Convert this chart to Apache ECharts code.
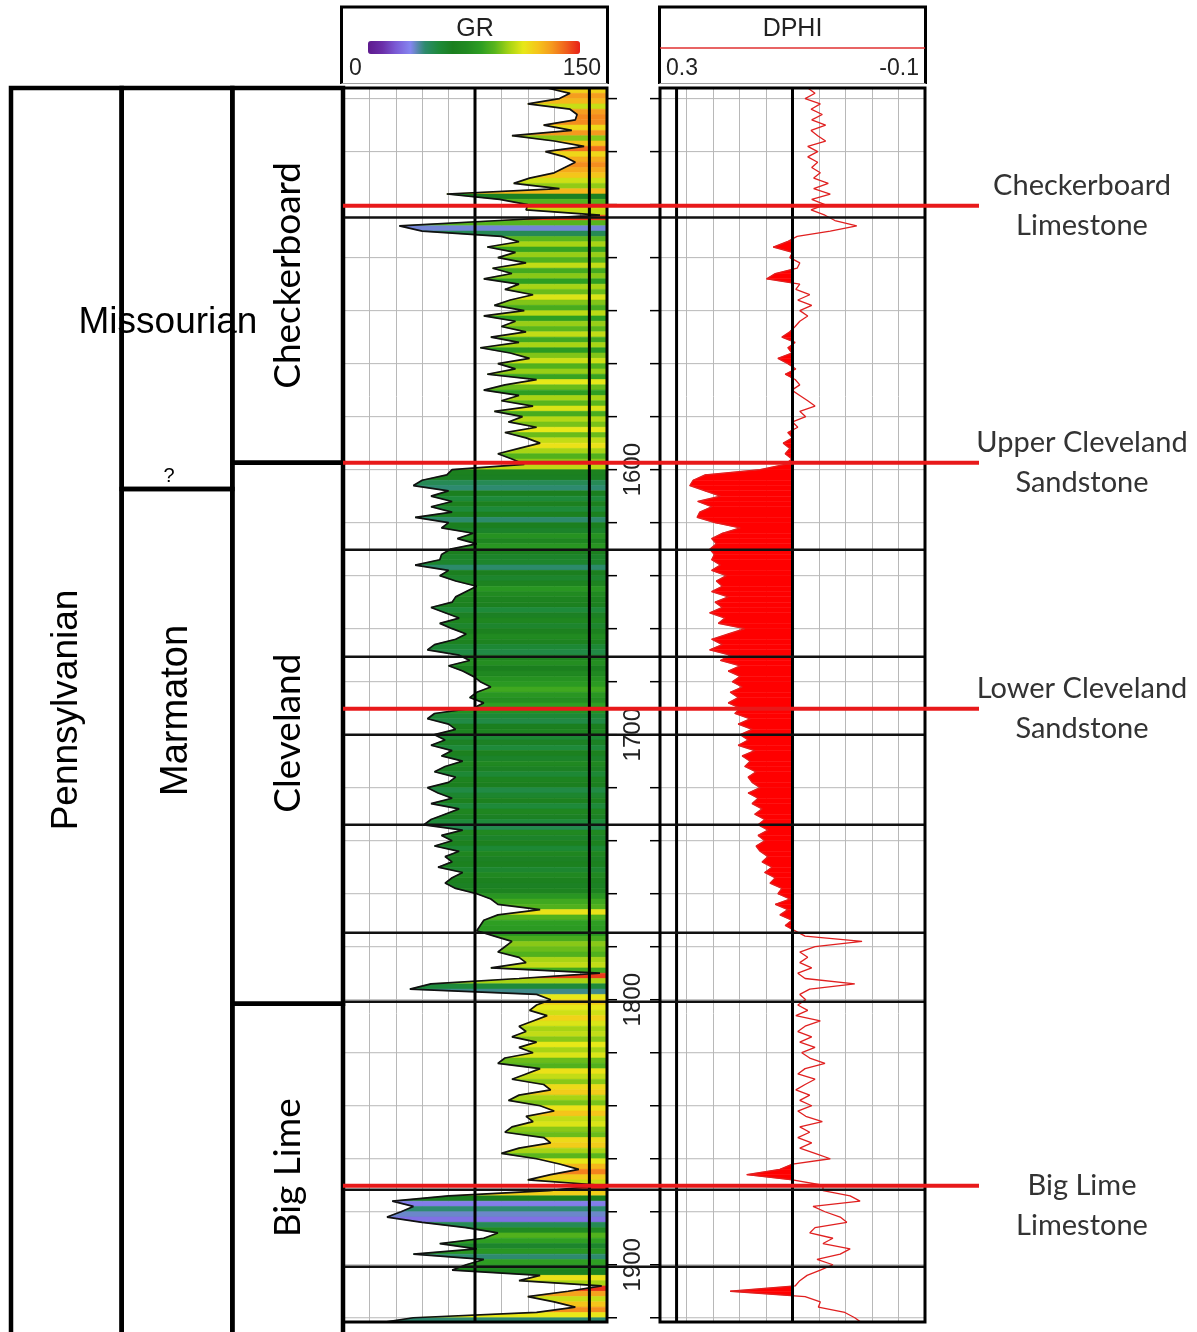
<!DOCTYPE html>
<html>
<head>
<meta charset="utf-8">
<title>Well log</title>
<script src="https://cdn.jsdelivr.net/npm/echarts@6/dist/echarts.min.js"></script>
<style>
html, body { margin: 0; padding: 0; background: #fff; }
#chart { width: 1197px; height: 1332px; }
</style>
</head>
<body>
<div id="chart"></div>
<script>
// log sampling, LAS style: first depth and step (ft)
var depthStart = 1456;
var depthStep = 2;

// GR (API) one value per sample
var grValues = [
    116, 129, 123, 105, 129, 133, 132, 114, 130, 96,
    120, 137, 115, 126, 132, 126, 120, 106, 97, 123,
    59, 89, 105, 104, 146, 89, 32, 45, 90, 100,
    82, 98, 88, 104, 85, 96, 80, 100, 92, 108,
    95, 86, 103, 80, 98, 90, 104, 84, 100, 78,
    95, 106, 88, 98, 82, 110, 92, 80, 100, 90,
    108, 86, 102, 94, 110, 92, 104, 112, 100, 88,
    96, 103, 62, 59, 45, 40, 60, 50, 62, 50,
    62, 41, 60, 56, 74, 65, 76, 61, 56, 55,
    41, 60, 55, 64, 76, 70, 64, 62, 50, 58,
    66, 55, 62, 70, 64, 52, 48, 66, 72, 60,
    68, 74, 78, 84, 76, 72, 80, 74, 52, 48,
    60, 64, 52, 58, 50, 62, 56, 68, 58, 52,
    64, 60, 48, 54, 62, 50, 66, 58, 50, 46,
    68, 56, 62, 52, 66, 58, 62, 54, 68, 62,
    58, 64, 76, 84, 88, 112, 88, 80, 78, 76,
    86, 96, 92, 88, 100, 104, 84, 146, 100, 50,
    38, 110, 118, 110, 106, 116, 108, 100, 104, 96,
    110, 100, 108, 92, 88, 112, 104, 96, 114, 118,
    100, 94, 112, 120, 104, 108, 96, 92, 114, 118,
    100, 90, 110, 123, 134, 118, 105, 147, 117, 60,
    28, 40, 33, 25, 45, 70, 88, 80, 55, 76,
    40, 80, 70, 62, 112, 100, 147, 128, 105, 120,
    132, 110, 40, 20, 15
];

// DPHI (v/v) one value per sample
var dphiValues = [
    0.077, 0.066, 0.081, 0.058, 0.072, 0.055, 0.071, 0.050, 0.072, 0.062,
    0.050, 0.077, 0.062, 0.077, 0.062, 0.071, 0.058, 0.068, 0.046, 0.068,
    0.043, 0.071, 0.051, 0.072, 0.051, 0.036, 0.003, 0.043, 0.093, 0.108,
    0.129, 0.100, 0.104, 0.089, 0.093, 0.126, 0.139, 0.089, 0.095, 0.074,
    0.092, 0.071, 0.089, 0.077, 0.089, 0.096, 0.104, 0.116, 0.096, 0.107,
    0.101, 0.122, 0.107, 0.095, 0.111, 0.096, 0.089, 0.101, 0.089, 0.077,
    0.066, 0.089, 0.080, 0.100, 0.092, 0.107, 0.100, 0.114, 0.104, 0.111,
    0.101, 0.111, 0.149, 0.232, 0.250, 0.255, 0.232, 0.209, 0.243, 0.222,
    0.240, 0.244, 0.217, 0.179, 0.206, 0.222, 0.215, 0.225, 0.218, 0.222,
    0.209, 0.222, 0.200, 0.215, 0.206, 0.222, 0.197, 0.217, 0.206, 0.225,
    0.202, 0.212, 0.172, 0.197, 0.222, 0.206, 0.225, 0.194, 0.209, 0.179,
    0.197, 0.179, 0.191, 0.176, 0.194, 0.182, 0.197, 0.179, 0.187, 0.164,
    0.182, 0.161, 0.179, 0.167, 0.182, 0.157, 0.176, 0.164, 0.172, 0.155,
    0.167, 0.161, 0.149, 0.167, 0.152, 0.161, 0.146, 0.157, 0.142, 0.152,
    0.137, 0.152, 0.142, 0.155, 0.149, 0.137, 0.146, 0.131, 0.142, 0.126,
    0.134, 0.116, 0.122, 0.104, 0.126, 0.107, 0.119, 0.101, 0.111, 0.096,
    0.081, -0.005, 0.066, 0.089, 0.077, 0.089, 0.071, 0.092, 0.081, 0.006,
    0.074, 0.089, 0.080, 0.092, 0.077, 0.095, 0.058, 0.081, 0.092, 0.071,
    0.089, 0.066, 0.086, 0.074, 0.051, 0.081, 0.092, 0.066, 0.081, 0.095,
    0.074, 0.089, 0.071, 0.092, 0.080, 0.055, 0.089, 0.074, 0.092, 0.071,
    0.089, 0.066, 0.043, 0.100, 0.119, 0.169, 0.100, 0.054, 0.054, 0.013,
    -0.002, 0.069, 0.051, 0.028, 0.018, 0.066, 0.074, 0.039, 0.054, 0.013,
    0.028, 0.063, 0.039, 0.058, 0.078, 0.089, 0.096, 0.194, 0.081, 0.058,
    0.061, 0.021, 0.006, -0.005, -0.009
];

var depthLabels = [1600, 1700, 1800, 1900];
var tickDepths = [1460, 1480, 1500, 1520, 1540, 1560, 1580, 1600, 1620, 1640, 1660, 1680,
    1700, 1720, 1740, 1760, 1780, 1800, 1820, 1840, 1860, 1880, 1900, 1920];
var thickDepths = [1504.9, 1630.2, 1670.6, 1700, 1734, 1774.7, 1800.8, 1871.7, 1900.8];
var grRefLines = [75, 140];
var dphiRefLines = [0.275, 0.1];
var dphiCutoff = 0.1;

// formation tops (red lines)
var topDepths = [1500.4, 1597.4, 1690.2, 1870.2];
var topNames = ['Checkerboard\nLimestone', 'Upper Cleveland\nSandstone', 'Lower Cleveland\nSandstone', 'Big Lime\nLimestone'];

// stratigraphic column: system / series / formation
var unitNames = ['Pennsylvanian', 'Missourian', 'Marmaton', 'Checkerboard', 'Cleveland', 'Big Lime'];
var unitColumn = [0, 1, 1, 2, 2, 2];
var unitTop = [1456, 1456, 1607.3, 1456, 1597.4, 1801.5];
var unitBase = [1930, 1607.3, 1930, 1597.4, 1801.5, 1930];
var uncertainTops = ['Marmaton'];

// styles
var arialFont = '"Liberation Sans", Arial, sans-serif';
var calibriFont = 'Lato, "Open Sans", sans-serif';
var unitLabelStyle = {
    'Pennsylvanian': { font: '37px ' + arialFont },
    'Missourian': { font: '37px ' + arialFont, horizontal: true, dx: -9, dy: 34 },
    'Marmaton': { font: '38px ' + arialFont, dy: -200 },
    'Checkerboard': { font: '37px ' + calibriFont },
    'Cleveland': { font: '37px ' + calibriFont },
    'Big Lime': { font: '37px ' + calibriFont }
};
var topLabelShift = { 'Big Lime\nLimestone': 20 };
var grColors = ['#5e1a8e', '#6a2ea8', '#7b5cd6', '#8585f0', '#2e8a70', '#1e8a3a', '#1b7f1f',
    '#218a21', '#2e9e22', '#5ab61c', '#a8d414', '#e8e818', '#f5c51a', '#f59a1e', '#f0601c', '#e82018'];
var dphiColor = '#ff0000';
var gridGrey = '#b8b8b8';

function depthAt(i) { return depthStart + i * depthStep; }

var grLine = grValues.map(function (v, i) { return [v, depthAt(i)]; });
var dphiLine = dphiValues.map(function (v, i) { return [v, depthAt(i)]; });
var grSegs = [], dphiSegs = [];
for (var i = 0; i < grValues.length - 1; i++) {
    grSegs.push([grValues[i], depthAt(i), grValues[i + 1], depthAt(i + 1)]);
    dphiSegs.push([dphiValues[i], depthAt(i), dphiValues[i + 1], depthAt(i + 1)]);
}

function hLines(color, width) {
    return function (params, api) {
        var cs = params.coordSys;
        var y = api.coord([api.value(0), api.value(1)])[1];
        return { type: 'line', shape: { x1: cs.x, y1: y, x2: cs.x + cs.width, y2: y },
            style: { stroke: color, lineWidth: width } };
    };
}
function vLines(color, width) {
    return function (params, api) {
        var cs = params.coordSys;
        var x = api.coord([api.value(0), api.value(1)])[0];
        return { type: 'line', shape: { x1: x, y1: cs.y, x2: x, y2: cs.y + cs.height },
            style: { stroke: color, lineWidth: width } };
    };
}

function renderGrFill(params, api) {
    var c = api.visual('color');
    var pts = [
        api.coord([api.value(0), api.value(1)]),
        api.coord([api.value(2), api.value(3)]),
        api.coord([150, api.value(3)]),
        api.coord([150, api.value(1)])
    ];
    return { type: 'polygon', shape: { points: pts }, style: { fill: c, stroke: c, lineWidth: 0.6 } };
}

function renderDphiFill(params, api) {
    var a = api.value(0), d0 = api.value(1), b = api.value(2), d1 = api.value(3);
    var c = dphiCutoff, pts;
    if (a <= c && b <= c) return null;
    if (a > c && b > c) {
        pts = [[a, d0], [b, d1], [c, d1], [c, d0]];
    } else if (a > c) {
        pts = [[a, d0], [c, d0 + (d1 - d0) * (a - c) / (a - b)], [c, d0]];
    } else {
        pts = [[c, d0 + (d1 - d0) * (c - a) / (b - a)], [b, d1], [c, d1]];
    }
    return { type: 'polygon', shape: { points: pts.map(function (p) { return api.coord(p); }) },
        style: { fill: dphiColor, stroke: dphiColor, lineWidth: 0.5 } };
}

function renderStrat(params, api) {
    var name = unitNames[params.dataIndex];
    var st = unitLabelStyle[name] || {};
    var p0 = api.coord([api.value(0), api.value(1)]);
    var p1 = api.coord([api.value(0) + 1, api.value(2)]);
    var cx = (p0[0] + p1[0]) / 2, cy = (p0[1] + Math.min(p1[1], 1332)) / 2;
    var kids = [
        { type: 'rect', shape: { x: p0[0], y: p0[1], width: p1[0] - p0[0], height: p1[1] - p0[1] },
            style: { fill: 'none', stroke: '#000', lineWidth: 4.5 } },
        { type: 'text', x: cx + (st.dx || 0), y: cy + (st.dy || 0), rotation: st.horizontal ? 0 : Math.PI / 2,
            style: { text: name, font: st.font, fill: '#000', align: 'center', verticalAlign: 'middle' }, z2: 10 }
    ];
    if (uncertainTops.indexOf(name) >= 0) {
        kids.push({ type: 'text', x: cx - 8, y: p0[1] - 2,
            style: { text: '?', font: '20px ' + arialFont, fill: '#000', align: 'center', verticalAlign: 'bottom' } });
    }
    return { type: 'group', children: kids };
}

function renderTicks(params, api) {
    var cs = params.coordSys;
    var y = api.coord([0, api.value(1)])[1];
    return { type: 'group', children: [
        { type: 'line', shape: { x1: cs.x, y1: y, x2: cs.x + 10, y2: y }, style: { stroke: '#000', lineWidth: 1.5 } },
        { type: 'line', shape: { x1: cs.x + cs.width - 10, y1: y, x2: cs.x + cs.width, y2: y }, style: { stroke: '#000', lineWidth: 1.5 } }
    ] };
}

function renderDepthLabel(params, api) {
    var p = api.coord([api.value(0), api.value(1)]);
    return { type: 'text', x: p[0], y: p[1], rotation: Math.PI / 2,
        style: { text: String(api.value(1)), font: '24px ' + arialFont, fill: '#222', align: 'center', verticalAlign: 'middle' } };
}

function renderTop(params, api) {
    var name = topNames[params.dataIndex];
    var a = api.coord([0, api.value(1)]), b = api.coord([1, api.value(1)]);
    return { type: 'group', children: [
        { type: 'line', shape: { x1: a[0], y1: a[1], x2: b[0], y2: b[1] }, style: { stroke: '#e8191a', lineWidth: 4 } },
        { type: 'text', x: b[0] + 103, y: b[1] + (topLabelShift[name] || 0), style: { text: name, font: '29px ' + calibriFont,
            fill: '#333', align: 'center', verticalAlign: 'middle', lineHeight: 40 } }
    ] };
}

function yAx(grid, max) {
    return { gridIndex: grid, type: 'value', inverse: true, min: 1456, max: max, show: false };
}
function hideX(grid, max) {
    return { gridIndex: grid, type: 'value', min: 0, max: max, show: false };
}
var labelText = { fontFamily: arialFont, fontSize: 23, color: '#222' };

var chart = echarts.init(document.getElementById('chart'));
chart.setOption({
    animation: false,
    grid: [
        { left: 11, top: 88, width: 332, height: 1244 },
        { left: 343, top: 88, width: 264, height: 1234, show: true, borderColor: '#000', borderWidth: 3, z: 5 },
        { left: 607, top: 88, width: 53, height: 1234 },
        { left: 660, top: 88, width: 265, height: 1234, show: true, borderColor: '#000', borderWidth: 3, z: 5 },
        { left: 343, top: 88, width: 582, height: 1234 },
        { left: 343, top: 88, width: 636, height: 1234 }
    ],
    xAxis: [
        hideX(0, 3),
        {
            gridIndex: 1, type: 'value', min: 0, max: 150, interval: 15, position: 'top',
            axisLine: { show: false }, axisTick: { show: false },
            splitLine: { show: true, lineStyle: { color: gridGrey, width: 1 } },
            axisLabel: Object.assign({
                margin: 8, padding: [0, 6, 0, 6], alignMinLabel: 'left', alignMaxLabel: 'right',
                formatter: function (v) { return (v === 0 || v === 150) ? String(v) : ''; }
            }, labelText),
            name: 'GR', nameLocation: 'middle', nameGap: 46,
            nameTextStyle: { fontFamily: arialFont, fontSize: 25, color: '#222' }
        },
        hideX(2, 1),
        {
            gridIndex: 3, type: 'value', min: -0.1, max: 0.3, interval: 0.04, inverse: true, position: 'top',
            axisLine: { show: false }, axisTick: { show: false },
            splitLine: { show: true, lineStyle: { color: gridGrey, width: 1 } },
            axisLabel: Object.assign({
                margin: 8, padding: [0, 6, 0, 6], alignMinLabel: 'right', alignMaxLabel: 'left',
                formatter: function (v) {
                    var r = Math.round(v * 100) / 100;
                    return (r === 0.3 || r === -0.1) ? String(r) : '';
                }
            }, labelText),
            name: 'DPHI', nameLocation: 'middle', nameGap: 46,
            nameTextStyle: { fontFamily: arialFont, fontSize: 25, color: '#222' }
        },
        hideX(4, 1),
        hideX(5, 1)
    ],
    yAxis: [yAx(0, 1925.4), yAx(1, 1921.6), yAx(2, 1921.6), yAx(3, 1921.6), yAx(4, 1921.6), yAx(5, 1921.6)],
    visualMap: {
        type: 'continuous', seriesIndex: 2, dimension: 0, min: 0, max: 150,
        orient: 'horizontal', left: 368, top: 41, itemWidth: 13, itemHeight: 212, padding: 0,
        calculable: false, hoverLink: false,
        inRange: { color: grColors }
    },
    graphic: [
        { type: 'polyline', shape: { points: [[341.5, 84], [341.5, 7], [607.5, 7], [607.5, 84]] },
            style: { stroke: '#000', lineWidth: 3, fill: 'none' } },
        { type: 'line', shape: { x1: 341.5, y1: 83.5, x2: 607.5, y2: 83.5 }, style: { stroke: '#a0a0a0', lineWidth: 1 } },
        { type: 'polyline', shape: { points: [[659.5, 84], [659.5, 7], [925.5, 7], [925.5, 84]] },
            style: { stroke: '#000', lineWidth: 3, fill: 'none' } },
        { type: 'line', shape: { x1: 659.5, y1: 83.5, x2: 925.5, y2: 83.5 }, style: { stroke: '#a0a0a0', lineWidth: 1 } },
        { type: 'line', shape: { x1: 660, y1: 48, x2: 925, y2: 48 }, style: { stroke: '#e03030', lineWidth: 1.5 } }
    ],
    series: [
        { type: 'custom', xAxisIndex: 0, yAxisIndex: 0, z: 3, clip: false, encode: { x: 0, y: [1, 2] },
            data: unitNames.map(function (n, k) { return [unitColumn[k], unitTop[k], unitBase[k]]; }),
            renderItem: renderStrat },
        { type: 'custom', xAxisIndex: 1, yAxisIndex: 1, z: 1, encode: { x: 0, y: 1 },
            data: tickDepths.map(function (d) { return [0, d]; }), renderItem: hLines(gridGrey, 1) },
        { type: 'custom', xAxisIndex: 1, yAxisIndex: 1, z: 2, clip: true, encode: { x: [0, 2], y: [1, 3] },
            data: grSegs, renderItem: renderGrFill },
        { type: 'line', xAxisIndex: 1, yAxisIndex: 1, z: 3, showSymbol: false, data: grLine,
            lineStyle: { color: '#111', width: 1.7 }, itemStyle: { color: '#111' } },
        { type: 'custom', xAxisIndex: 1, yAxisIndex: 1, z: 4, encode: { x: 0, y: 1 },
            data: grRefLines.map(function (v) { return [v, 1600]; }), renderItem: vLines('#000', 3) },
        { type: 'custom', xAxisIndex: 2, yAxisIndex: 2, z: 4, encode: { x: 0, y: 1 },
            data: tickDepths.map(function (d) { return [0, d]; }), renderItem: renderTicks },
        { type: 'custom', xAxisIndex: 2, yAxisIndex: 2, z: 4, encode: { x: 0, y: 1 },
            data: depthLabels.map(function (d) { return [0.5, d]; }), renderItem: renderDepthLabel },
        { type: 'custom', xAxisIndex: 3, yAxisIndex: 3, z: 1, encode: { x: 0, y: 1 },
            data: tickDepths.map(function (d) { return [0.1, d]; }), renderItem: hLines(gridGrey, 1) },
        { type: 'custom', xAxisIndex: 3, yAxisIndex: 3, z: 2, clip: true, encode: { x: [0, 2], y: [1, 3] },
            data: dphiSegs, renderItem: renderDphiFill },
        { type: 'line', xAxisIndex: 3, yAxisIndex: 3, z: 3, showSymbol: false, data: dphiLine,
            lineStyle: { color: '#e02020', width: 1.3 }, itemStyle: { color: '#e02020' } },
        { type: 'custom', xAxisIndex: 3, yAxisIndex: 3, z: 4, encode: { x: 0, y: 1 },
            data: dphiRefLines.map(function (v) { return [v, 1600]; }), renderItem: vLines('#000', 3) },
        { type: 'custom', xAxisIndex: 4, yAxisIndex: 4, z: 4, encode: { x: 0, y: 1 },
            data: thickDepths.map(function (d) { return [0, d]; }), renderItem: hLines('#111', 2.5) },
        { type: 'custom', xAxisIndex: 5, yAxisIndex: 5, z: 6, clip: false, encode: { x: 0, y: 1 },
            data: topDepths.map(function (d) { return [0, d]; }), renderItem: renderTop }
    ]
});
</script>
</body>
</html>
